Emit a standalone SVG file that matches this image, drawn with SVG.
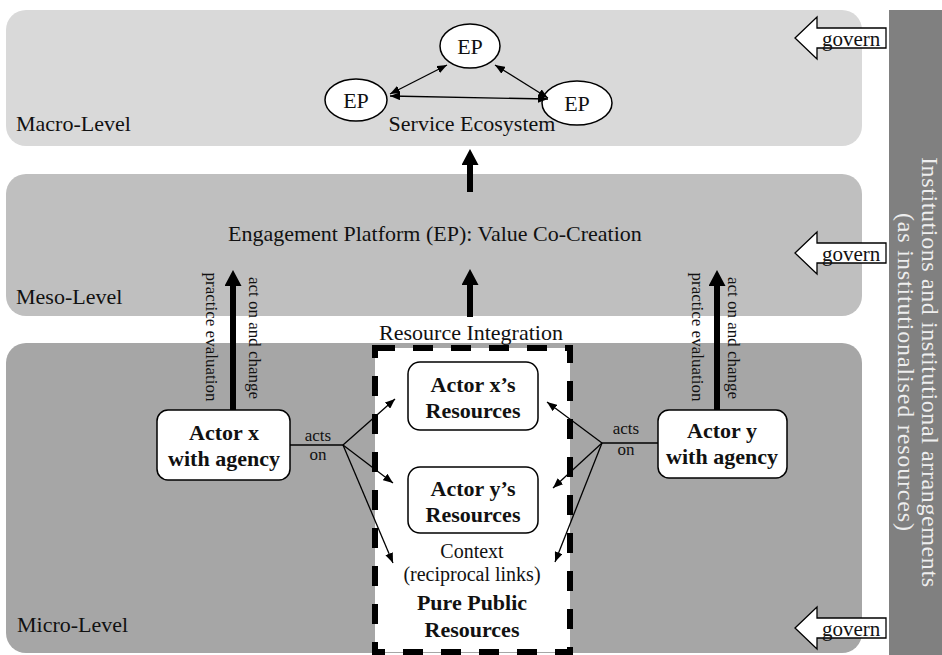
<svg xmlns="http://www.w3.org/2000/svg" width="942" height="655" viewBox="0 0 942 655">
  <style>
    text { font-family: "Liberation Serif", "Times New Roman", serif; fill: #111; }
    .lvl { font-size: 22px; }
    .reg { font-size: 22px; text-anchor: middle; }
    .side { font-size: 24px; fill: #eeeeee; text-anchor: middle; }
    .sm { font-size: 20px; text-anchor: middle; }
    .tiny { font-size: 17px; text-anchor: middle; }
    .bold { font-size: 22px; font-weight: bold; text-anchor: middle; }
    .box { fill: #fff; stroke: #000; stroke-width: 1.5; }
    .thin { fill: none; stroke: #000; stroke-width: 1.3; }
    .thick { fill: none; stroke: #000; stroke-width: 6; }
    .gov { fill: #fff; stroke: #000; stroke-width: 1.3; }
    .govt { font-size: 21px; }
  </style>
  <defs>
    <marker id="tip" markerUnits="userSpaceOnUse" viewBox="0 0 10 8" markerWidth="10" markerHeight="8" refX="10" refY="4" orient="auto-start-reverse">
      <polygon points="0,0 10,4 0,8" fill="#000"/>
    </marker>
    <marker id="bigtip" markerUnits="userSpaceOnUse" viewBox="0 0 16 17" markerWidth="16" markerHeight="17" refX="0" refY="8.5" orient="auto">
      <polygon points="0,0 16,8.5 0,17" fill="#000"/>
    </marker>
  </defs>

  <!-- level bands -->
  <rect id="macro-band" x="6" y="10" width="856" height="136" rx="20" fill="#d9d9d9"/>
  <rect id="meso-band" x="6" y="174" width="856" height="142" rx="20" fill="#bfbfbf"/>
  <rect id="micro-band" x="6" y="343" width="856" height="310" rx="20" fill="#a6a6a6"/>
  <text class="lvl" x="16" y="131">Macro-Level</text>
  <text class="lvl" x="16" y="304">Meso-Level</text>
  <text class="lvl" x="17" y="632">Micro-Level</text>

  <!-- institutions side panel -->
  <g id="institutions">
    <rect x="889" y="10" width="53" height="645" fill="#808080"/>
    <text class="side" transform="translate(922,372) rotate(90)" textLength="430" lengthAdjust="spacing">Institutions and institutional arrangements</text>
    <text class="side" transform="translate(898,372) rotate(90)" textLength="318" lengthAdjust="spacing">(as institutionalised resources)</text>
  </g>

  <!-- govern arrows -->
  <g id="govern-macro">
    <polygon class="gov" points="795,38 817,17 817,28 886,28 886,48 817,48 817,59"/>
    <text class="govt" x="822" y="46">govern</text>
  </g>
  <g id="govern-meso">
    <polygon class="gov" points="795,253 817,232 817,243 886,243 886,263 817,263 817,274"/>
    <text class="govt" x="822" y="261">govern</text>
  </g>
  <g id="govern-micro">
    <polygon class="gov" points="795,628 817,607 817,618 886,618 886,638 817,638 817,649"/>
    <text class="govt" x="822" y="636">govern</text>
  </g>

  <!-- macro level: service ecosystem -->
  <g id="ep-top">
    <ellipse class="box" cx="470" cy="46" rx="30" ry="22"/>
    <text class="reg" x="470" y="54">EP</text>
  </g>
  <g id="ep-left">
    <ellipse class="box" cx="356" cy="100" rx="31" ry="21"/>
    <text class="reg" x="356" y="108">EP</text>
  </g>
  <g id="ep-right">
    <ellipse class="box" cx="577" cy="103" rx="35" ry="22"/>
    <text class="reg" x="577" y="111">EP</text>
  </g>
  <text class="reg" x="472" y="131">Service Ecosystem</text>

  <!-- meso level -->
  <text class="lvl" x="228" y="241">Engagement Platform (EP): Value Co-Creation</text>

  <!-- micro level: resource integration area -->
  <g id="resource-integration">
    <rect x="375" y="348" width="195" height="304" fill="#fff" stroke="#000" stroke-width="6" stroke-dasharray="20 18"/>
    <text class="reg" x="471" y="340">Resource Integration</text>
    <text class="sm" x="472" y="558">Context</text>
    <text class="sm" x="472" y="581">(reciprocal links)</text>
    <text class="bold" x="472" y="610">Pure Public</text>
    <text class="bold" x="472" y="637">Resources</text>
  </g>
  <g id="res-x">
    <rect class="box" x="408" y="362" width="130" height="68" rx="12"/>
    <text class="bold" x="473" y="392">Actor x’s</text>
    <text class="bold" x="473" y="418">Resources</text>
  </g>
  <g id="res-y">
    <rect class="box" x="408" y="467" width="130" height="66" rx="12"/>
    <text class="bold" x="473" y="496">Actor y’s</text>
    <text class="bold" x="473" y="522">Resources</text>
  </g>

  <g id="actor-x">
    <rect class="box" x="157" y="410" width="133" height="70" rx="11"/>
    <text class="bold" x="224" y="440">Actor x</text>
    <text class="bold" x="224" y="466">with agency</text>
  </g>
  <g id="actor-y">
    <rect class="box" x="658" y="410" width="129" height="68" rx="11"/>
    <text class="bold" x="722" y="438">Actor y</text>
    <text class="bold" x="722" y="464">with agency</text>
  </g>

  <!-- connectors -->
  <g id="connectors">
    <!-- links between engagement platforms -->
    <path class="thin" d="M447,65 L390,94" marker-start="url(#tip)" marker-end="url(#tip)"/>
    <path class="thin" d="M495,65 L548,98" marker-start="url(#tip)" marker-end="url(#tip)"/>
    <path class="thin" d="M390,96 L548,99" marker-start="url(#tip)" marker-end="url(#tip)"/>

    <!-- upward flows between levels -->
    <path class="thick" d="M470,317 L470,285" marker-end="url(#bigtip)"/>
    <path class="thick" d="M470,192 L470,165" marker-end="url(#bigtip)"/>
    <path class="thick" d="M233,410 L233,286" marker-end="url(#bigtip)"/>
    <path class="thick" d="M717,410 L717,286" marker-end="url(#bigtip)"/>

    <!-- actor x acts on resources -->
    <path class="thin" d="M290,445 L343,445"/>
    <path class="thin" d="M343,445 L395,399" marker-end="url(#tip)"/>
    <path class="thin" d="M343,445 L393,483" marker-end="url(#tip)"/>
    <path class="thin" d="M343,445 L393,563" marker-end="url(#tip)"/>

    <!-- actor y acts on resources -->
    <path class="thin" d="M658,443 L602,443"/>
    <path class="thin" d="M602,443 L547,402" marker-end="url(#tip)"/>
    <path class="thin" d="M602,443 L553,488" marker-end="url(#tip)"/>
    <path class="thin" d="M602,443 L555,562" marker-end="url(#tip)"/>
  </g>

  <!-- connector labels -->
  <text class="tiny" transform="translate(206,337) rotate(90)">practice evaluation</text>
  <text class="tiny" transform="translate(249,338) rotate(90)">act on and change</text>
  <text class="tiny" transform="translate(692,337) rotate(90)">practice evaluation</text>
  <text class="tiny" transform="translate(728,338) rotate(90)">act on and change</text>
  <text class="tiny" x="318" y="441">acts</text>
  <text class="tiny" x="318" y="460">on</text>
  <text class="tiny" x="626" y="434">acts</text>
  <text class="tiny" x="626" y="455">on</text>
</svg>
